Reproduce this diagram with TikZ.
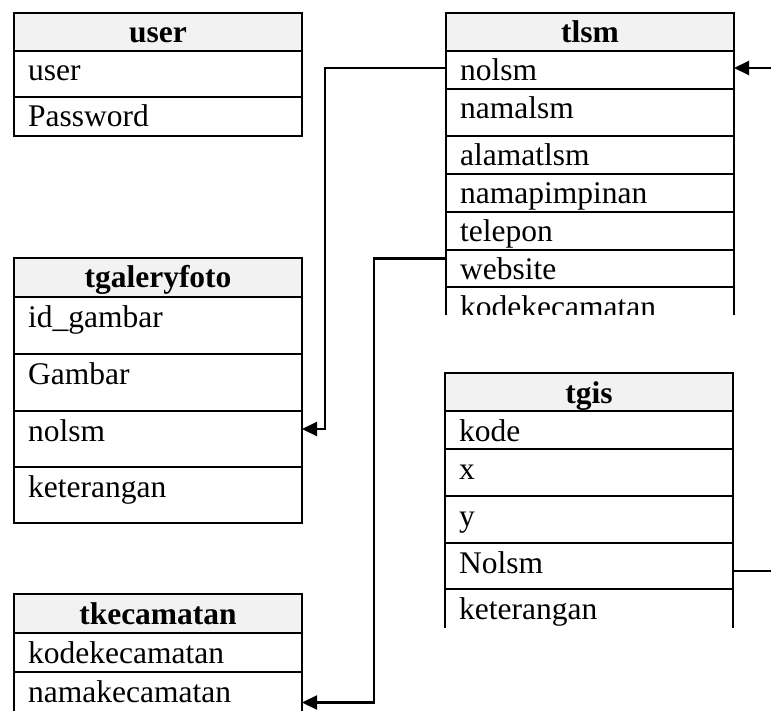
\documentclass[tikz,border=0pt]{standalone}
\usepackage{fontspec}
\setmainfont{Liberation Serif}
\usetikzlibrary{arrows.meta}
\definecolor{hdrgray}{HTML}{F2F2F2}
\newcommand\tabfont{\fontsize{31.5}{36}\selectfont}
\tikzset{
  rule/.style={line width=2.2pt},
  cellbox/.style={rule, draw, anchor=north west, inner sep=0pt, outer sep=0pt, minimum width=288pt},
  hdrbox/.style={cellbox, fill=hdrgray},
  openbox/.style={anchor=north west, inner sep=0pt, outer sep=0pt, minimum width=288pt},
  txt/.style={anchor=base west, inner sep=0pt, font=\tabfont},
  htxt/.style={anchor=base, inner sep=0pt, font=\tabfont\bfseries},
  conn/.style={line width=2.2pt},
  connarrow/.style={conn, -{Triangle[length=15pt,width=14pt]}}
}
\newcommand\thead[5]{%
  \node[hdrbox, minimum height={(#4-#3)*1pt}] (#1) at (#2,#3) {};
  \node[htxt] at ([yshift=-30pt]#1.north) {#5};
}
\newcommand\trow[5]{%
  \node[cellbox, minimum height={(#4-#3)*1pt}] (#1) at (#2,#3) {};
  \node[txt] at ([xshift=14pt,yshift=-30pt]#1.north west) {#5};
}
\newcommand\topen[5]{%
  \node[openbox, minimum height={(#4-#3)*1pt}] (#1) at (#2,#3) {};
  \draw[rule] (#1.north west) -- (#1.south west) (#1.north east) -- (#1.south east);
  \node[txt] at ([xshift=14pt,yshift=-30pt]#1.north west) {#5};
}
\begin{document}
\begin{tikzpicture}[x=1pt,y=-1pt]
\useasboundingbox (0,0) rectangle (771,711);
% user
\thead{user-h}{14}{13}{51}{user}
\trow{user-user}{14}{51}{97}{user}
\trow{user-pass}{14}{97}{136}{Password}
% tlsm
\thead{tlsm-h}{446}{13}{51}{tlsm}
\trow{tlsm-nolsm}{446}{51}{89}{nolsm}
\trow{tlsm-nama}{446}{89}{136}{namalsm}
\trow{tlsm-alamat}{446}{136}{174}{alamatlsm}
\trow{tlsm-pimp}{446}{174}{212}{namapimpinan}
\trow{tlsm-tel}{446}{212}{250}{telepon}
\trow{tlsm-web}{446}{250}{287}{website}
\begin{scope}
  \clip (430,280) rectangle (750,315);
  \topen{tlsm-kode}{446}{287}{315}{kodekecamatan}
\end{scope}
% tgaleryfoto
\thead{gal-h}{14}{258}{297}{tgaleryfoto}
\trow{gal-id}{14}{297}{354}{id\_gambar}
\trow{gal-gambar}{14}{354}{411}{Gambar}
\trow{gal-nolsm}{14}{411}{467}{nolsm}
\trow{gal-ket}{14}{467}{523}{keterangan}
% tgis
\thead{gis-h}{445}{373}{411}{tgis}
\trow{gis-kode}{445}{411}{449}{kode}
\trow{gis-x}{445}{449}{496}{x}
\trow{gis-y}{445}{496}{543}{y}
\trow{gis-nolsm}{445}{543}{589}{Nolsm}
\topen{gis-ket}{445}{589}{628}{keterangan}
% tkecamatan
\thead{kec-h}{14}{594}{633}{tkecamatan}
\trow{kec-kode}{14}{633}{672}{kodekecamatan}
\topen{kec-nama}{14}{672}{711}{namakecamatan}
% connectors
\coordinate (rin) at (771,68);
\coordinate (rout) at (771,571);
\draw[connarrow] (rin) -- (rin -| tlsm-nolsm.east);
\draw[conn] ([yshift=-5pt]gis-nolsm.east) -- (rout);
\draw[connarrow] ([yshift=2pt]tlsm-nolsm.west) -- ++(-121,0) |- ([yshift=10pt]gal-nolsm.east);
\draw[connarrow] ([yshift=10pt]tlsm-web.west) -- ++(-72,0) |- ([yshift=-11pt]kec-nama.east);
\end{tikzpicture}
\end{document}
